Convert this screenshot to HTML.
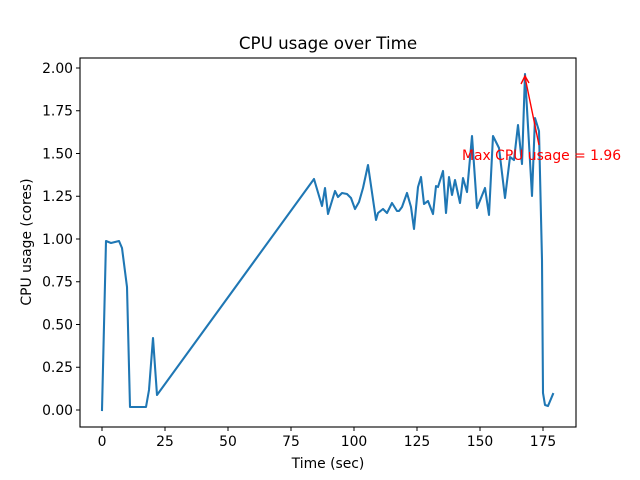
<!DOCTYPE html>
<html><head><style>body{margin:0;background:#fff}svg{display:block}text{font-family:"DejaVu Sans","Liberation Sans",sans-serif}</style></head><body>
<svg width="640" height="480" xmlns="http://www.w3.org/2000/svg">
<rect x="80" y="58" width="496" height="369" fill="none" stroke="#000" stroke-width="1.1"/>
<text x="328" y="49" font-size="16.7" text-anchor="middle">CPU usage over Time</text>
<g stroke="#000">
<line x1="102" y1="427" x2="102" y2="431"/><line x1="165" y1="427" x2="165" y2="431"/><line x1="228" y1="427" x2="228" y2="431"/><line x1="291" y1="427" x2="291" y2="431"/><line x1="354" y1="427" x2="354" y2="431"/><line x1="417" y1="427" x2="417" y2="431"/><line x1="480" y1="427" x2="480" y2="431"/><line x1="543" y1="427" x2="543" y2="431"/>
</g>
<g font-size="13.9" text-anchor="middle">
<text x="102" y="446">0</text><text x="165" y="446">25</text><text x="228" y="446">50</text><text x="291" y="446">75</text><text x="354" y="446">100</text><text x="417" y="446">125</text><text x="480" y="446">150</text><text x="543" y="446">175</text>
</g>
<text x="328" y="468" font-size="13.9" text-anchor="middle">Time (sec)</text>
<g stroke="#000">
<line x1="76" y1="410" x2="80" y2="410"/><line x1="76" y1="367.25" x2="80" y2="367.25"/><line x1="76" y1="324.5" x2="80" y2="324.5"/><line x1="76" y1="281.75" x2="80" y2="281.75"/><line x1="76" y1="239" x2="80" y2="239"/><line x1="76" y1="196.25" x2="80" y2="196.25"/><line x1="76" y1="153.5" x2="80" y2="153.5"/><line x1="76" y1="110.75" x2="80" y2="110.75"/><line x1="76" y1="68" x2="80" y2="68"/>
</g>
<g font-size="13.9" text-anchor="end">
<text x="73" y="415">0.00</text><text x="73" y="372.2">0.25</text><text x="73" y="329.5">0.50</text><text x="73" y="286.7">0.75</text><text x="73" y="244">1.00</text><text x="73" y="201.2">1.25</text><text x="73" y="158.5">1.50</text><text x="73" y="115.7">1.75</text><text x="73" y="73">2.00</text>
</g>
<text transform="translate(31,242) rotate(-90)" font-size="13.9" text-anchor="middle">CPU usage (cores)</text>
<polyline fill="none" stroke="#1f77b4" stroke-width="2.08" stroke-linejoin="round" stroke-linecap="square" points="102,410 106,241 111,243 119,241 122,248 127,287 130,407 146,407 149,390 153,338 157,395 314,179 322,206 325,188 328,214 335,191 338,197 342,193 347,194 351,198 355,209 359,202 363,188 368,165 376,220 378,213 383,209 387,213 392,203 397,211 399,211 402,207 407,193 411,207 414,229 418,187 421,177 424,204 428,201 433,214 436,186 438,187 443,171 446,213 449,177 452,195 455,180 460,203 463,178 467,192 472,136 477,208 485,188 489,215 493,136 499,148 505,198 510,157 514,160 518,125 522,164 525,74 532,196 535,118 539,131 542,260 543,393 545,405 548,406 553,394"/>
<line x1="539" y1="145" x2="525" y2="77" stroke="red" stroke-width="1.4"/>
<polyline points="521,84 525,76 529,83" fill="none" stroke="red" stroke-width="1.4"/>
<text x="462" y="160" font-size="13.9" fill="red">Max CPU usage = 1.96</text>
</svg>
</body></html>
